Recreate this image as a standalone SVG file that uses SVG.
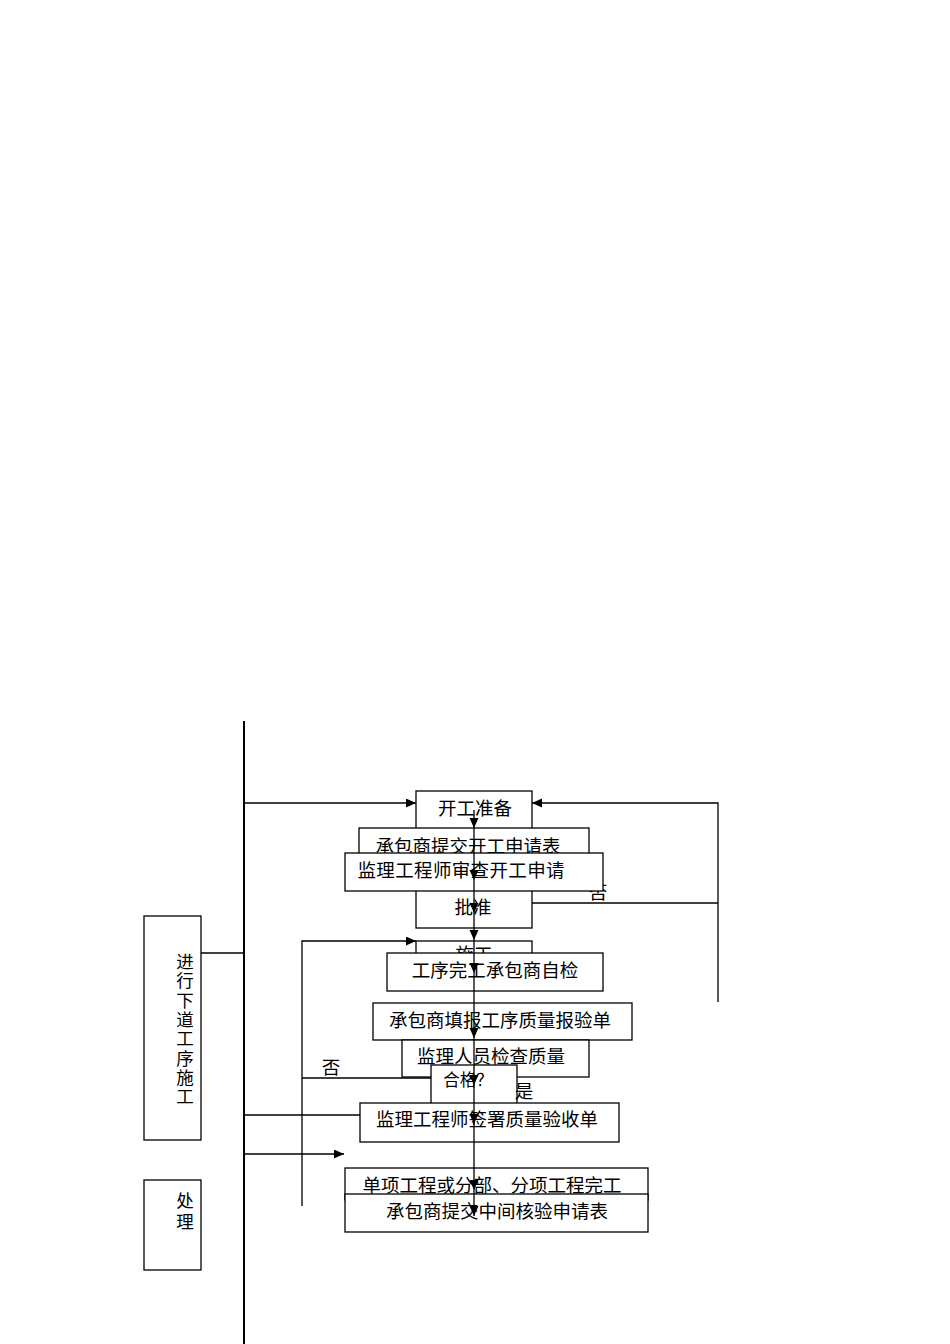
<svg xmlns="http://www.w3.org/2000/svg" width="950" height="1344" viewBox="0 0 950 1344">
<style>
.box{fill:#fff;stroke:#000;stroke-width:1.3}
.ln{fill:none;stroke:#000;stroke-width:1.3}
.t{font-family:"Noto Sans CJK SC","Liberation Serif",sans-serif;font-size:18.5px;fill:#000;text-anchor:middle}
.v{font-size:17.5px}
</style>
<defs>
<marker id="ah" markerUnits="userSpaceOnUse" markerWidth="11" markerHeight="10" refX="10" refY="4.5" orient="auto">
<path d="M0,0 L10,4.5 L0,9 z" fill="#000"/>
</marker>
</defs>
<rect width="950" height="1344" fill="#fff"/>
<g id="connectors-back">
<line class="ln" x1="244" y1="721" x2="244" y2="1344" style="stroke-width:2"/>
<line class="ln" x1="244" y1="803" x2="416" y2="803" marker-end="url(#ah)"/>
<polyline class="ln" points="718,1002 718,803 532,803" marker-end="url(#ah)"/>
<line class="ln" x1="532" y1="903" x2="718" y2="903"/>
<line class="ln" x1="201" y1="953" x2="244" y2="953"/>
<polyline class="ln" points="302,1206 302,941 416,941" marker-end="url(#ah)"/>
<line class="ln" x1="302" y1="1078" x2="431" y2="1078"/>
<line class="ln" x1="244" y1="1115" x2="360" y2="1115"/>
<line class="ln" x1="244" y1="1154" x2="344" y2="1154" marker-end="url(#ah)"/>
</g>
<text class="t" x="598" y="899">否</text>
<g id="n-kaigong"><rect class="box" x="416" y="791" width="116" height="50"/><text class="t" x="475" y="815">开工准备</text></g>
<g id="n-shenqing"><rect class="box" x="359" y="828" width="230" height="40"/><text class="t" x="468" y="853">承包商提交开工申请表</text></g>
<g id="n-pizhun"><rect class="box" x="416" y="880" width="116" height="48"/><text class="t" x="473" y="914">批准</text></g>
<g id="n-shencha"><rect class="box" x="345" y="853" width="258" height="38"/><text class="t" x="461" y="877" textLength="207">监理工程师审查开工申请</text></g>
<g id="n-shigong"><rect class="box" x="416" y="941" width="116" height="40"/><text class="t" x="474" y="961">施工</text></g>
<g id="n-zijian"><rect class="box" x="387" y="953" width="216" height="38"/><text class="t" x="495" y="977">工序完工承包商自检</text></g>
<g id="n-baoyan"><rect class="box" x="373" y="1003" width="259" height="37"/><text class="t" x="500" y="1027">承包商填报工序质量报验单</text></g>
<g id="n-jiancha"><rect class="box" x="402" y="1040" width="187" height="37"/><text class="t" x="491" y="1063">监理人员检查质量</text></g>
<g id="n-hege"><rect class="box" x="431" y="1065" width="86" height="45"/><text class="t" x="468" y="1086" style="font-size:16.5px">合格？</text></g>
<text class="t" x="524" y="1098">是</text>
<text class="t" x="331" y="1074">否</text>
<g id="n-qianshu"><rect class="box" x="360" y="1103" width="259" height="39"/><text class="t" x="487" y="1126">监理工程师签署质量验收单</text></g>
<g id="n-danxiang"><rect class="box" x="345" y="1168" width="303" height="32"/><text class="t" x="492" y="1192">单项工程或分部、分项工程完工</text></g>
<g id="n-zhongjian"><rect class="box" x="345" y="1194" width="303" height="38"/><text class="t" x="497" y="1218">承包商提交中间核验申请表</text></g>
<g id="n-xiadao"><rect class="box" x="144" y="916" width="57" height="224"/>
<text class="t v" x="185"><tspan x="185" y="968">进</tspan><tspan x="185" y="987.3">行</tspan><tspan x="185" y="1006.6">下</tspan><tspan x="185" y="1025.9">道</tspan><tspan x="185" y="1045.2">工</tspan><tspan x="185" y="1064.5">序</tspan><tspan x="185" y="1083.8">施</tspan><tspan x="185" y="1103.1">工</tspan></text></g>
<g id="n-chuli"><rect class="box" x="144" y="1180" width="57" height="90"/>
<text class="t v" x="185"><tspan x="185" y="1207">处</tspan><tspan x="185" y="1228">理</tspan></text></g>
<g id="connectors-center">
<line class="ln" x1="474" y1="810" x2="474" y2="828" marker-end="url(#ah)"/>
<line class="ln" x1="474" y1="828" x2="474" y2="880" marker-end="url(#ah)"/>
<line class="ln" x1="474" y1="880" x2="474" y2="913" marker-end="url(#ah)"/>
<line class="ln" x1="474" y1="913" x2="474" y2="940" marker-end="url(#ah)"/>
<line class="ln" x1="474" y1="940" x2="474" y2="973" marker-end="url(#ah)"/>
<line class="ln" x1="474" y1="973" x2="474" y2="1038" marker-end="url(#ah)"/>
<line class="ln" x1="474" y1="1038" x2="474" y2="1085" marker-end="url(#ah)"/>
<line class="ln" x1="474" y1="1085" x2="474" y2="1124" marker-end="url(#ah)"/>
<line class="ln" x1="474" y1="1124" x2="474" y2="1190" marker-end="url(#ah)"/>
<line class="ln" x1="474" y1="1190" x2="474" y2="1216" marker-end="url(#ah)"/>
</g>
</svg>
